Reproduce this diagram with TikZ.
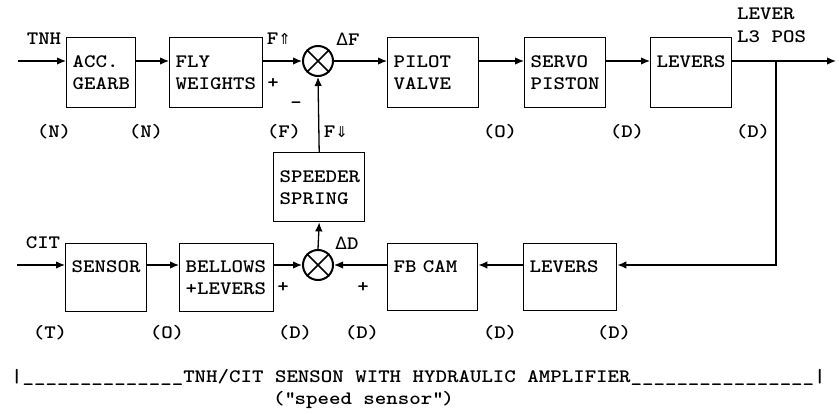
\documentclass[tikz,border=0pt]{standalone}
\usepackage{fontspec}
\newfontfamily\cour{lmmonolt10-bold.otf}[FakeStretch=1.15]
\newfontfamily\symf{DejaVu Sans}
\usetikzlibrary{arrows.meta}
\begin{document}
\begin{tikzpicture}[x=1pt,y=-1pt,
  font=\cour\fontsize{19}{22}\selectfont,
  box/.style={draw, line width=1.4pt, anchor=north west, align=left, inner xsep=6pt, inner ysep=0pt},
  sum/.style={draw, circle, line width=2pt, minimum size=30pt, inner sep=0pt},
  arr/.style={line width=1.3pt, -{Latex[length=9pt,width=7.5pt]}},
  ln/.style={line width=1.3pt},
  lbl/.style={inner sep=0pt}]
\useasboundingbox (0,0) rectangle (839,414);

% top row boxes
\node[box, text width=57pt, minimum height=70pt] (acc) at (66,37) {ACC.\\GEARB};
\node[box, text width=81pt, minimum height=70pt] (fly) at (169,37) {FLY\\WEIGHTS};
\node[box, text width=79pt, minimum height=70pt] (pilot) at (387,37) {PILOT\\VALVE};
\node[box, text width=69pt, minimum height=70pt] (servo) at (524,37) {SERVO\\PISTON};
\node[box, text width=69pt, minimum height=70pt] (lev1) at (650,37) {LEVERS\\\mbox{}};
% middle
\node[box, text width=79pt, minimum height=69pt] (spring) at (273,152) {SPEEDER\\SPRING};
% bottom row boxes
\node[box, text width=69pt, minimum height=68pt] (sensor) at (65,243) {SENSOR\\\mbox{}};
\node[box, text width=82pt, minimum height=68pt] (bel) at (179,243) {BELLOWS\\+LEVERS};
\node[box, text width=78pt, minimum height=67pt] (fbcam) at (387,243) {FB CAM\\\mbox{}};
\node[box, text width=81pt, minimum height=67pt] (lev2) at (523,243) {LEVERS\\\mbox{}};

% summing junctions
\node[sum] (s1) at (318,61) {};
\draw[line width=1.6pt] (s1.north west) -- (s1.south east) (s1.north east) -- (s1.south west);
\node[sum] (s2) at (318,265) {};
\draw[line width=1.6pt] (s2.north west) -- (s2.south east) (s2.north east) -- (s2.south west);

% free ends
\coordinate (tnhin) at (18,61);
\coordinate (citin) at (17,265);
\coordinate (out) at (836,61);
\coordinate (br) at (776,61);

% connectors top
\draw[arr] (tnhin) -- (tnhin -| acc.west);
\draw[arr] (acc.east |- s1) -- (fly.west |- s1);
\draw[arr] (fly.east |- s1) -- (s1.west);
\draw[arr] (s1.east) -- (s1 -| pilot.west);
\draw[arr] (pilot.east |- s1) -- (servo.west |- s1);
\draw[arr] (servo.east |- s1) -- (lev1.west |- s1);
\draw[arr] (lev1.east |- s1) -- (out);
\draw[arr] (br) |- (s2 -| lev2.east);
% connectors bottom
\draw[arr] (lev2.west |- s2) -- (fbcam.east |- s2);
\draw[arr] (fbcam.west |- s2) -- (s2.east);
\draw[arr] (citin) -- (citin -| sensor.west);
\draw[arr] (sensor.east |- s2) -- (bel.west |- s2);
\draw[arr] (bel.east |- s2) -- (s2.west);
\draw[arr] (s2.north) -- (spring.south);
\draw[arr] (spring.north) -- (s1.south);

% labels top
\node[lbl] (tnh) at (44,39) {TNH};
\node[lbl] (fup) at (279,39) {F{\symf\fontsize{15}{18}\selectfont ⇑}};
\node[lbl] (df) at (348,39) {{\symf\fontsize{17}{18}\selectfont Δ}F};
\node[lbl] (p1) at (273,83) {+};
\node[lbl] (m1) at (296,105) {-};
\node[lbl, anchor=west] (lever) at (737,14) {LEVER};
\node[lbl, anchor=west] (l3pos) at (737,37) {L3 POS};
\node[lbl] (n1) at (54,132) {(N)};
\node[lbl] (n2) at (146,132) {(N)};
\node[lbl] (f1) at (284,132) {(F)};
\node[lbl] (fdn) at (336,132) {F{\symf\fontsize{15}{18}\selectfont ⇓}};
\node[lbl] (o1) at (500,132) {(O)};
\node[lbl] (d1) at (627,132) {(D)};
\node[lbl] (d2) at (753,132) {(D)};

% labels bottom
\node[lbl] (cit) at (43,243) {CIT};
\node[lbl] (dd) at (347,243) {{\symf\fontsize{17}{18}\selectfont Δ}D};
\node[lbl] (p2) at (283,287) {+};
\node[lbl] (p3) at (363,287) {+};
\node[lbl] (t1) at (50,333) {(T)};
\node[lbl] (o2) at (167,333) {(O)};
\node[lbl] (d3) at (295,333) {(D)};
\node[lbl] (d4) at (362,333) {(D)};
\node[lbl] (d5) at (500,333) {(D)};
\node[lbl] (d6) at (614,333) {(D)};

% title
\node[lbl, anchor=base west] (title) at (11,383) {|\_\_\_\_\_\_\_\_\_\_\_\_\_\_TNH/CIT SENSON WITH HYDRAULIC AMPLIFIER\_\_\_\_\_\_\_\_\_\_\_\_\_\_\_\_|};
\node[lbl, anchor=base west] (sub) at (273,404) {(\textquotedbl speed sensor\textquotedbl)};
\end{tikzpicture}
\end{document}
